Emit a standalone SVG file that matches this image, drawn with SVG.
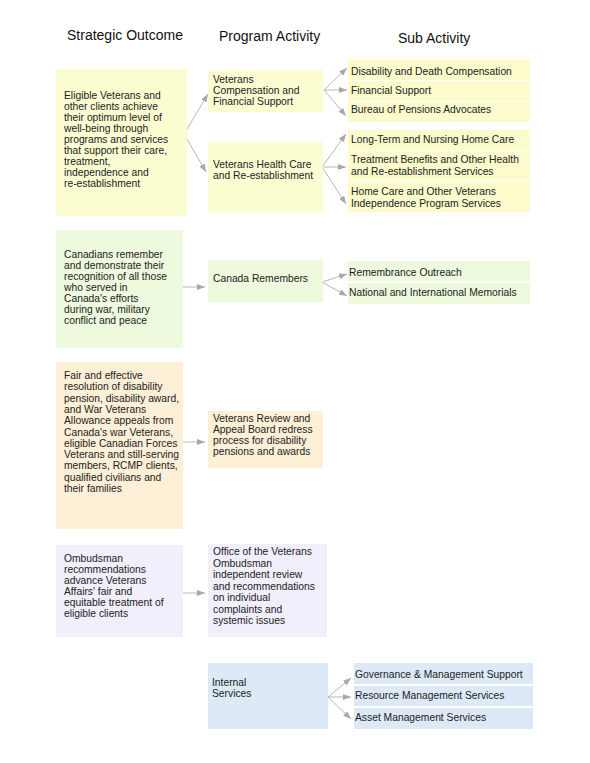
<svg xmlns="http://www.w3.org/2000/svg" width="590" height="763" viewBox="0 0 590 763">
<defs>
<style>
text{font-family:"Liberation Sans",Arial,sans-serif;fill:#222;}
.h{font-size:14px;fill:#111;}
.t{font-size:10.3px;}
.y{fill:#fdfdd2;}
.ys{fill:#fbfbcc;}
.g{fill:#eefadd;}
.p{fill:#fdf0d6;}
.l{fill:#f1effb;}
.b{fill:#dde9f7;}
.c{stroke:#b8b8b8;stroke-width:1;fill:none;marker-end:url(#a);}
</style>
<marker id="a" viewBox="0 0 8 6" refX="8" refY="3" markerWidth="8" markerHeight="6" markerUnits="userSpaceOnUse" orient="auto">
<path d="M0,0 L8,3 L0,6 z" fill="#a8a8a8"/>
</marker>
</defs>
<rect width="590" height="763" fill="#fff"/>
<g id="headers">
<text class="h" x="67" y="40">Strategic Outcome</text>
<text class="h" x="219" y="41">Program Activity</text>
<text class="h" x="398" y="43">Sub Activity</text>
</g>
<g id="connectors">
<path class="c" d="M184,134 L208,94"/>
<path class="c" d="M184,134 L206,172"/>
<path class="c" d="M324,90 L347,68"/>
<path class="c" d="M324,90 L347,90"/>
<path class="c" d="M324,90 L346,116"/>
<path class="c" d="M322,167 L346,134"/>
<path class="c" d="M322,167 L346,167"/>
<path class="c" d="M322,167 L346,204"/>
<path class="c" d="M183,287 L205,287"/>
<path class="c" d="M322,282 L347,274"/>
<path class="c" d="M322,282 L347,296"/>
<path class="c" d="M183,442 L205,442"/>
<path class="c" d="M183,593 L205,593"/>
<path class="c" d="M328,697 L351,678"/>
<path class="c" d="M328,697 L351,697"/>
<path class="c" d="M328,697 L351,719"/>
</g>
<g id="so1">
<rect class="y" x="56" y="69" width="131" height="147"/>
<text class="t" x="64" y="99">Eligible Veterans and</text>
<text class="t" x="64" y="110">other clients achieve</text>
<text class="t" x="64" y="121">their optimum level of</text>
<text class="t" x="64" y="132">well-being through</text>
<text class="t" x="64" y="143">programs and services</text>
<text class="t" x="64" y="154">that support their care,</text>
<text class="t" x="64" y="165">treatment,</text>
<text class="t" x="64" y="176">independence and</text>
<text class="t" x="64" y="187">re-establishment</text>
</g>
<g id="pa1">
<rect class="y" x="208" y="70" width="115" height="42"/>
<text class="t" x="213" y="83">Veterans</text>
<text class="t" x="213" y="94">Compensation and</text>
<text class="t" x="213" y="105">Financial Support</text>
</g>
<g id="pa2">
<rect class="y" x="208" y="142" width="115" height="71"/>
<text class="t" x="213" y="168">Veterans Health Care</text>
<text class="t" x="213" y="179">and Re-establishment</text>
</g>
<g id="sa1">
<rect class="ys" x="348" y="59" width="182" height="21"/>
<text class="t" x="351" y="75">Disability and Death Compensation</text>
</g>
<g id="sa2">
<rect class="ys" x="348" y="81" width="182" height="20"/>
<text class="t" x="351" y="94">Financial Support</text>
</g>
<g id="sa3">
<rect class="ys" x="348" y="102" width="182" height="20"/>
<text class="t" x="351" y="113">Bureau of Pensions Advocates</text>
</g>
<g id="sa4">
<rect class="ys" x="348" y="130" width="182" height="20"/>
<text class="t" x="351" y="143">Long-Term and Nursing Home Care</text>
</g>
<g id="sa5">
<rect class="ys" x="348" y="151" width="182" height="29"/>
<text class="t" x="351" y="163">Treatment Benefits and Other Health</text>
<text class="t" x="351" y="175">and Re-establishment Services</text>
</g>
<g id="sa6">
<rect class="ys" x="348" y="181" width="182" height="31"/>
<text class="t" x="351" y="195">Home Care and Other Veterans</text>
<text class="t" x="351" y="207">Independence Program Services</text>
</g>
<g id="so2">
<rect class="g" x="56" y="230" width="127" height="118"/>
<text class="t" x="64" y="258">Canadians remember</text>
<text class="t" x="64" y="269">and demonstrate their</text>
<text class="t" x="64" y="280">recognition of all those</text>
<text class="t" x="64" y="291">who served in</text>
<text class="t" x="64" y="302">Canada's efforts</text>
<text class="t" x="64" y="313">during war, military</text>
<text class="t" x="64" y="324">conflict and peace</text>
</g>
<g id="pa3">
<rect class="g" x="208" y="260" width="115" height="42"/>
<text class="t" x="213" y="282">Canada Remembers</text>
</g>
<g id="sa7">
<rect class="g" x="348" y="261" width="182" height="20"/>
<text class="t" x="349" y="276">Remembrance Outreach</text>
</g>
<g id="sa8">
<rect class="g" x="348" y="283" width="182" height="21"/>
<text class="t" x="349" y="296">National and International Memorials</text>
</g>
<g id="so3">
<rect class="p" x="56" y="362" width="127" height="167"/>
<text class="t" x="64" y="379">Fair and effective</text>
<text class="t" x="64" y="390.3">resolution of disability</text>
<text class="t" x="64" y="401.6">pension, disability award,</text>
<text class="t" x="64" y="412.9">and War Veterans</text>
<text class="t" x="64" y="424.2">Allowance appeals from</text>
<text class="t" x="64" y="435.5">Canada's war Veterans,</text>
<text class="t" x="64" y="446.8">eligible Canadian Forces</text>
<text class="t" x="64" y="458.1">Veterans and still-serving</text>
<text class="t" x="64" y="469.4">members, RCMP clients,</text>
<text class="t" x="64" y="480.7">qualified civilians and</text>
<text class="t" x="64" y="492">their families</text>
</g>
<g id="pa4">
<rect class="p" x="208" y="411" width="115" height="57"/>
<text class="t" x="213" y="422">Veterans Review and</text>
<text class="t" x="213" y="433">Appeal Board redress</text>
<text class="t" x="213" y="444">process for disability</text>
<text class="t" x="213" y="455">pensions and awards</text>
</g>
<g id="so4">
<rect class="l" x="56" y="545" width="127" height="92"/>
<text class="t" x="64" y="562">Ombudsman</text>
<text class="t" x="64" y="573">recommendations</text>
<text class="t" x="64" y="584">advance Veterans</text>
<text class="t" x="64" y="595">Affairs' fair and</text>
<text class="t" x="64" y="606">equitable treatment of</text>
<text class="t" x="64" y="617">eligible clients</text>
</g>
<g id="pa5">
<rect class="l" x="208" y="544" width="119" height="93"/>
<text class="t" x="213" y="555">Office of the Veterans</text>
<text class="t" x="213" y="566.5">Ombudsman</text>
<text class="t" x="213" y="578">independent review</text>
<text class="t" x="213" y="589.5">and recommendations</text>
<text class="t" x="213" y="601">on individual</text>
<text class="t" x="213" y="612.5">complaints and</text>
<text class="t" x="213" y="624">systemic issues</text>
</g>
<g id="pa6">
<rect class="b" x="208" y="663" width="120" height="66"/>
<text class="t" x="212" y="686">Internal</text>
<text class="t" x="212" y="697">Services</text>
</g>
<g id="sa9">
<rect class="b" x="354" y="663" width="179" height="21"/>
<text class="t" x="355" y="678">Governance &amp; Management Support</text>
</g>
<g id="sa10">
<rect class="b" x="354" y="686" width="179" height="20"/>
<text class="t" x="355" y="699">Resource Management Services</text>
</g>
<g id="sa11">
<rect class="b" x="354" y="708" width="179" height="21"/>
<text class="t" x="355" y="721">Asset Management Services</text>
</g>
</svg>
